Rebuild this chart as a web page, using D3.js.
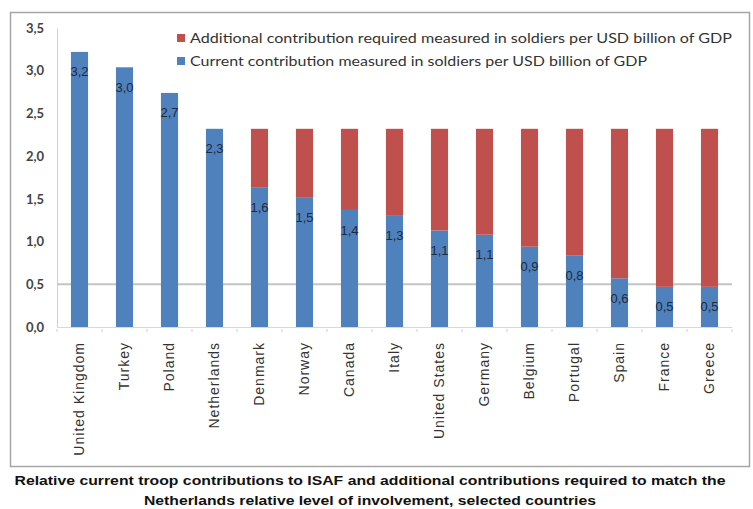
<!DOCTYPE html>
<html>
<head>
<meta charset="utf-8">
<script src="https://cdn.jsdelivr.net/npm/d3@7"></script>
<style>
  body { margin: 0; background: #fff; }
  svg { display: block; }
</style>
</head>
<body>
<svg id="chart"></svg>
<script>
// data
var countries = ["United Kingdom", "Turkey", "Poland", "Netherlands", "Denmark", "Norway",
  "Canada", "Italy", "United States", "Germany", "Belgium", "Portugal", "Spain", "France", "Greece"];
var current = [3.22, 3.04, 2.74, 2.32, 1.63, 1.52, 1.37, 1.31, 1.13, 1.08, 0.94, 0.84, 0.57, 0.47, 0.47];
var additional = [0, 0, 0, 0, 0.69, 0.80, 0.95, 1.01, 1.19, 1.24, 1.38, 1.48, 1.75, 1.85, 1.85];
var yTicks = [0, 0.5, 1.0, 1.5, 2.0, 2.5, 3.0, 3.5];
var legendLabels = [
  "Additional contribution required measured in soldiers per USD billion of GDP",
  "Current contribution measured in soldiers per USD billion of GDP"
];
var captionLines = [
  "Relative current troop contributions to ISAF and additional contributions required to match the",
  "Netherlands relative level of involvement, selected countries"
];

var fullWidth = 753;
var fullHeight = 509;
var margin = {top: 28, left: 57};
var width = 675;
var height = 299;

var blue = "#4f81bd";
var red = "#c0504d";
var commaFmt = function(v) { return d3.format(".1f")(v).replace(".", ","); };

var svg = d3.select("#chart")
  .attr("width", fullWidth)
  .attr("height", fullHeight);

// outer frame
svg.append("rect")
  .attr("x", 10.5).attr("y", 12.5)
  .attr("width", 739).attr("height", 454)
  .attr("fill", "#fff")
  .attr("stroke", "#a6a6a6")
  .attr("stroke-width", 1.5);

var g = svg.append("g")
  .attr("transform", "translate(" + margin.left + "," + margin.top + ")");

var x = d3.scaleBand().domain(countries).range([0, width]).paddingInner(0.62).paddingOuter(0.31);
var y = d3.scaleLinear().domain([0, 3.5]).range([height, 0]);

// y axis
var yAxis = d3.axisLeft(y).tickValues(yTicks).tickSize(0).tickPadding(13).tickFormat(commaFmt);
var yAxisG = g.append("g").call(yAxis);
yAxisG.select(".domain").attr("stroke", "#d0d0d0");
yAxisG.selectAll("text")
  .attr("fill", "#444")
  .style("font-family", "Lato, 'Open Sans', sans-serif")
  .style("font-size", "13px")
  .style("font-weight", "bold");

// the single gridline at 0,5
g.append("line")
  .attr("x1", 0).attr("x2", width)
  .attr("y1", y(0.5)).attr("y2", y(0.5))
  .attr("stroke", "#c4c4c4")
  .attr("stroke-width", 2);

// x axis
var xAxis = d3.axisBottom(x).tickSize(0).tickPadding(0);
var xAxisG = g.append("g")
  .attr("transform", "translate(0," + height + ")")
  .call(xAxis);
xAxisG.select(".domain").attr("stroke", "#d8d8d8");
xAxisG.selectAll("text")
  .attr("transform", "rotate(-90)")
  .attr("text-anchor", "end")
  .attr("x", -15)
  .attr("y", 0)
  .attr("dy", "0.35em")
  .attr("fill", "#333")
  .style("font-family", "'Liberation Sans', sans-serif")
  .style("font-size", "14px")
  .style("letter-spacing", "1px");

// small tick marks between categories
var step = x.step();
g.append("g").selectAll("line")
  .data(d3.range(countries.length + 1))
  .join("line")
  .attr("x1", function(i) { return i * step; })
  .attr("x2", function(i) { return i * step; })
  .attr("y1", height + 2).attr("y2", height + 5)
  .attr("stroke", "#cfcfcf");

// stacked bars
var bars = g.append("g");
bars.selectAll(".cur")
  .data(countries)
  .join("rect")
  .attr("class", "cur")
  .attr("x", function(d) { return x(d); })
  .attr("width", x.bandwidth())
  .attr("y", function(d, i) { return y(current[i]); })
  .attr("height", function(d, i) { return y(0) - y(current[i]); })
  .attr("fill", blue);

bars.selectAll(".add")
  .data(countries)
  .join("rect")
  .attr("class", "add")
  .attr("x", function(d) { return x(d); })
  .attr("width", x.bandwidth())
  .attr("y", function(d, i) { return y(current[i] + additional[i]); })
  .attr("height", function(d, i) { return y(current[i]) - y(current[i] + additional[i]); })
  .attr("fill", red);

// value labels near top of blue segment
g.append("g").selectAll("text")
  .data(countries)
  .join("text")
  .attr("x", function(d) { return x(d) + x.bandwidth() / 2; })
  .attr("y", function(d, i) { return y(current[i]) + 20; })
  .attr("text-anchor", "middle")
  .attr("dy", "0.35em")
  .attr("fill", "#1f2a3a")
  .style("font-family", "'Liberation Sans', sans-serif")
  .style("font-size", "13px")
  .text(function(d, i) { return commaFmt(current[i]); });

// legend
var legend = svg.append("g").attr("transform", "translate(177,38)");
[red, blue].forEach(function(c, i) {
  var row = legend.append("g").attr("transform", "translate(0," + (i * 23) + ")");
  row.append("rect")
    .attr("x", 0).attr("y", -4)
    .attr("width", 8).attr("height", 8)
    .attr("fill", c);
  row.append("text")
    .attr("x", 13).attr("y", 0)
    .attr("dy", "0.35em")
    .attr("fill", "#333")
    .style("font-family", "Lato, 'Open Sans', sans-serif")
    .style("font-size", "13px")
    .attr("textLength", i === 0 ? 542 : 457)
    .attr("lengthAdjust", "spacingAndGlyphs")
    .text(legendLabels[i]);
});

// caption below the frame
svg.append("g").selectAll("text")
  .data(captionLines)
  .join("text")
  .attr("x", 370)
  .attr("y", function(d, i) { return 480 + i * 20; })
  .attr("text-anchor", "middle")
  .attr("dy", "0.35em")
  .attr("fill", "#111")
  .style("font-family", "'Liberation Sans', sans-serif")
  .style("font-size", "13.5px")
  .style("font-weight", "bold")
  .attr("textLength", function(d, i) { return i === 0 ? 711 : 452; })
  .attr("lengthAdjust", "spacingAndGlyphs")
  .text(function(d) { return d; });
</script>
</body>
</html>
